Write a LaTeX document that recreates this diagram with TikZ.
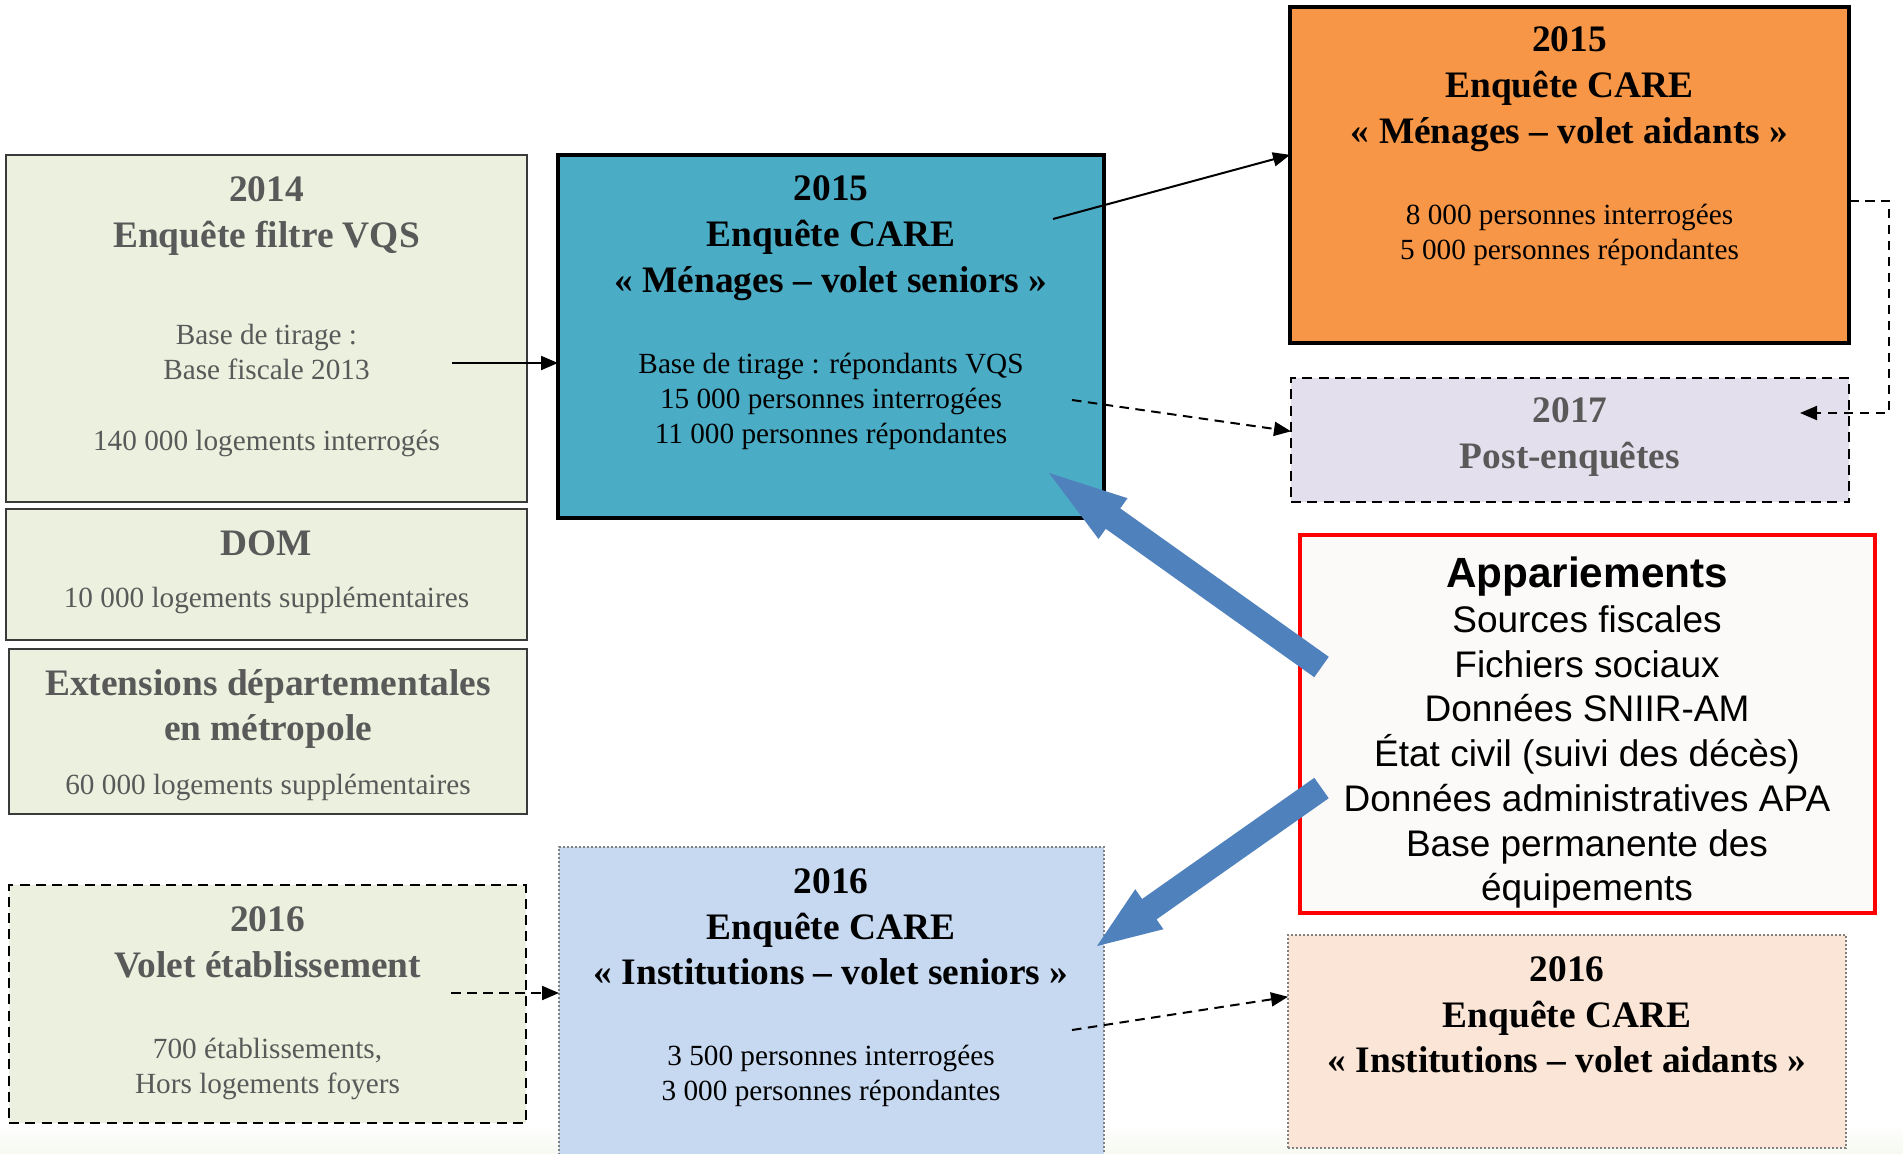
\documentclass[tikz,border=0pt]{standalone}
\usepackage{fontspec}
\setmainfont{Liberation Serif}
\newfontfamily\arialf{Liberation Sans}
\usetikzlibrary{fit,arrows.meta,calc}
\definecolor{lgreen}{HTML}{EBF1DE}
\definecolor{menblue}{HTML}{4BACC6}
\definecolor{aidorange}{HTML}{F79646}
\definecolor{lav}{HTML}{E4DFEC}
\definecolor{lblue}{HTML}{C6D9F1}
\definecolor{peach}{HTML}{FBE5D6}
\definecolor{appfill}{HTML}{FBFAF9}
\definecolor{bigblue}{HTML}{4F81BD}
\definecolor{txtgray}{HTML}{595959}
\definecolor{edgegray}{HTML}{3A3A3A}
\definecolor{bandcol}{HTML}{F6F9F1}
\begin{document}
\begin{tikzpicture}[x=0.4pt,y=-0.4pt,
  panel/.style={inner sep=0pt, outer sep=0pt},
  greenbox/.style={panel, draw=edgegray, line width=0.8pt, fill=lgreen},
  dashbox/.style={panel, draw=black, line width=0.9pt, dash pattern=on 4pt off 2.5pt},
  dotbox/.style={panel, draw=gray, line width=0.5pt, dash pattern=on 0.8pt off 0.8pt},
  heavybox/.style={panel, draw=black, line width=1.7pt},
  ttl/.style={font=\fontsize{14.95}{18.3}\selectfont\bfseries, align=center, inner sep=0pt},
  bdy/.style={font=\fontsize{11.7}{14}\selectfont, align=center, inner sep=0pt},
  conn/.style={line width=0.8pt, -{Triangle[length=6.8pt,width=5.6pt]}},
  dconn/.style={conn, dash pattern=on 3.8pt off 2.6pt},
  bigarrow/.style={fill=bigblue}
]
\useasboundingbox (0,0) rectangle (1903,1153);
\fill[white] (0,0) rectangle (1903,1153);
\shade[top color=white, bottom color=bandcol] (0,1125) rectangle (1903,1153);

% boxes
\node[greenbox, fit={(6,155)(527,502)}] (b2014) {};
\node[greenbox, fit={(6,509)(527,640)}] (bdom) {};
\node[greenbox, line width=1pt, fit={(9,649)(527,814)}] (bext) {};
\node[dashbox, fill=lgreen, fit={(9,885)(526,1123)}] (bvolet) {};
\node[heavybox, fill=menblue, fit={(558,155)(1104,518)}] (bmen) {};
\node[dotbox, fill=lblue, fit={(559,847)(1104,1175)}] (binst) {};
\node[heavybox, fill=aidorange, fit={(1290,7)(1849,343)}] (baid) {};
\node[dashbox, fill=lav, fit={(1291,378)(1849,502)}] (bpost) {};
\node[panel, draw=red, line width=1.8pt, fill=appfill, fit={(1300,535)(1875,913)}] (bapp) {};
\node[dotbox, fill=peach, fit={(1288,935)(1846,1148)}] (binstaid) {};

% texts
\node[ttl, text=txtgray] (t2014a) at (266.5,216) {2014\\Enquête filtre VQS};
\node[bdy, text=txtgray] (t2014b) at (266.5,352) {Base de tirage :\\Base fiscale 2013};
\node[bdy, text=txtgray] (t2014c) at (266.5,443) {140 000 logements interrogés};
\node[ttl, text=txtgray] (tdoma) at (266.5,543) {DOM};
\node[bdy, text=txtgray] (tdomb) at (266.5,600) {10 000 logements supplémentaires};
\node[ttl, text=txtgray] (texta) at (268,709) {Extensions départementales\\en métropole};
\node[bdy, text=txtgray] (textb) at (268,787) {60 000 logements supplémentaires};
\node[ttl, text=txtgray] (tvoleta) at (267.5,942) {2016\\Volet établissement};
\node[bdy, text=txtgray] (tvoletb) at (267.5,1069) {700 établissements,\\Hors logements foyers};

\node[ttl] (tmena) at (831,238) {2015\\Enquête CARE\\« Ménages – volet seniors »};
\node[bdy] (tmenb) at (831,401) {Base de tirage : répondants VQS\\15 000 personnes interrogées\\11 000 personnes répondantes};
\node[ttl] (tinsta) at (831,927) {2016\\Enquête CARE\\« Institutions – volet seniors »};
\node[bdy] (tinstb) at (831,1076) {3 500 personnes interrogées\\3 000 personnes répondantes};

\node[ttl] (taida) at (1569.5,89) {2015\\Enquête CARE\\« Ménages – volet aidants »};
\node[bdy] (taidb) at (1569.5,235) {8 000 personnes interrogées\\5 000 personnes répondantes};
\node[ttl, text=txtgray, font=\fontsize{14.95}{18.6}\selectfont\bfseries] (tpost) at (1570,437) {2017\\Post-enquêtes};
\node[inner sep=0pt, font=\arialf\bfseries\fontsize{16.9}{20}\selectfont] (tappa) at (1587,577) {Appariements};
\node[inner sep=0pt, align=center, font=\arialf\fontsize{14.8}{17.9}\selectfont] (tappb) at (1587,757) {Sources fiscales\\Fichiers sociaux\\Données SNIIR-AM\\État civil (suivi des décès)\\Données administratives APA\\Base permanente des\\équipements};
\node[ttl] (tinstaid) at (1567,1015) {2016\\Enquête CARE\\« Institutions – volet aidants »};

% connectors
\coordinate (c1s) at (452,363);
\draw[conn] (c1s) -- (c1s -| bmen.west);
\coordinate (c2s) at (1053,219);
\draw[conn] (c2s) -- ($(baid.north west)!0.44!(baid.south west)$);
\coordinate (c3s) at (1072,400);
\draw[dconn] (c3s) -- ($(bpost.north west)!0.43!(bpost.south west)$);
\coordinate (c4e) at (1800,413);
\draw[dconn] ($(baid.north east)!0.576!(baid.south east)$) -- ++(40,0) |- (c4e);
\coordinate (c5s) at (451,993);
\draw[dconn] (c5s) -- (c5s -| binst.west);
\coordinate (c6s) at (1072,1030);
\draw[dconn] (c6s) -- ($(binstaid.north west)!0.29!(binstaid.south west)$);

% big block arrows
\fill[bigarrow] (1328.75,656.8) -- (1120.25,508.4) -- (1127.5,498.2) -- (1049,473)
  -- (1098.5,539.0) -- (1105.75,528.8) -- (1314.25,677.2) -- cycle;
\fill[bigarrow] (1314.3,777.8) -- (1142.1,899.0) -- (1135.2,889.2) -- (1097,946)
  -- (1163.4,929.2) -- (1156.5,919.4) -- (1328.7,798.2) -- cycle;
\end{tikzpicture}
\end{document}
